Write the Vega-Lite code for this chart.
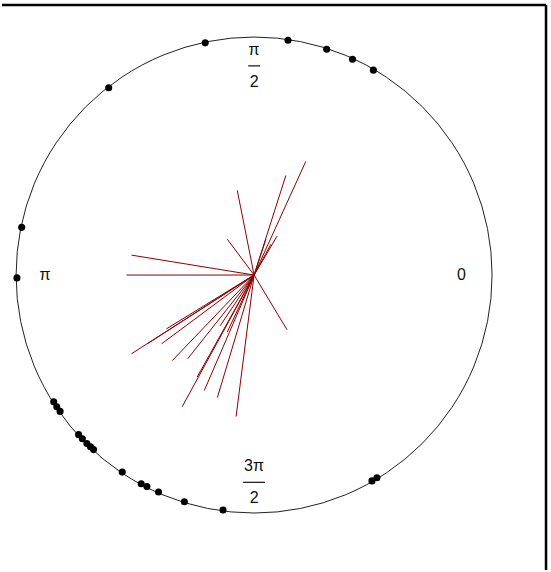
{
  "$schema": "https://vega.github.io/schema/vega-lite/v6.json",
  "width": 551,
  "height": 572,
  "autosize": {"type": "fit", "contains": "padding"},
  "padding": 0,
  "background": "white",
  "config": {"view": {"stroke": null}},
  "layer": [
    {
      "data": {"values": [
        {"x": -1.063, "y": 1.139, "x2": 1.231, "y2": 1.139},
        {"x": 1.231, "y": 1.139, "x2": 1.231, "y2": -1.2437}
      ]},
      "mark": {"type": "rule", "color": "black", "strokeWidth": 2.5},
      "encoding": {
        "x": {"field": "x", "type": "quantitative", "scale": {"domain": [-1.063, 1.252], "nice": false, "zero": false}, "axis": null},
        "y": {"field": "y", "type": "quantitative", "scale": {"domain": [-1.2437, 1.1597], "nice": false, "zero": false}, "axis": null},
        "x2": {"field": "x2"},
        "y2": {"field": "y2"}
      }
    },
    {
      "data": {"values": [{"x": 0, "y": 0}]},
      "mark": {"type": "point", "shape": "circle", "size": 226576, "filled": false, "stroke": "#222222", "strokeWidth": 1, "opacity": 1},
      "encoding": {
        "x": {"field": "x", "type": "quantitative", "axis": null},
        "y": {"field": "y", "type": "quantitative", "axis": null}
      }
    },
    {
      "data": {"values": [
        {"x0": 0, "y0": 0, "x": 0.218, "y": 0.479},
        {"x0": 0, "y0": 0, "x": 0.134, "y": 0.420},
        {"x0": 0, "y0": 0, "x": 0.097, "y": 0.164},
        {"x0": 0, "y0": 0, "x": 0.071, "y": 0.130},
        {"x0": 0, "y0": 0, "x": 0.050, "y": 0.151},
        {"x0": 0, "y0": 0, "x": -0.071, "y": 0.357},
        {"x0": 0, "y0": 0, "x": -0.113, "y": 0.151},
        {"x0": 0, "y0": 0, "x": -0.517, "y": 0.084},
        {"x0": 0, "y0": 0, "x": -0.538, "y": 0.0},
        {"x0": 0, "y0": 0, "x": 0.139, "y": -0.231},
        {"x0": 0, "y0": 0, "x": -0.076, "y": -0.597},
        {"x0": 0, "y0": 0, "x": -0.303, "y": -0.555},
        {"x0": 0, "y0": 0, "x": -0.210, "y": -0.487},
        {"x0": 0, "y0": 0, "x": -0.155, "y": -0.517},
        {"x0": 0, "y0": 0, "x": -0.517, "y": -0.332},
        {"x0": 0, "y0": 0, "x": -0.450, "y": -0.290},
        {"x0": 0, "y0": 0, "x": -0.390, "y": -0.290},
        {"x0": 0, "y0": 0, "x": -0.345, "y": -0.361},
        {"x0": 0, "y0": 0, "x": -0.280, "y": -0.353},
        {"x0": 0, "y0": 0, "x": -0.240, "y": -0.430},
        {"x0": 0, "y0": 0, "x": -0.370, "y": -0.227},
        {"x0": 0, "y0": 0, "x": -0.143, "y": -0.214},
        {"x0": 0, "y0": 0, "x": -0.113, "y": -0.240}
      ]},
      "mark": {"type": "rule", "color": "#8B0000", "strokeWidth": 1},
      "encoding": {
        "x": {"field": "x0", "type": "quantitative", "axis": null},
        "y": {"field": "y0", "type": "quantitative", "axis": null},
        "x2": {"field": "x"},
        "y2": {"field": "y"}
      }
    },
    {
      "data": {"values": [
        {"x": -0.206, "y": 0.979},
        {"x": 0.143, "y": 0.990},
        {"x": 0.306, "y": 0.952},
        {"x": 0.415, "y": 0.910},
        {"x": 0.503, "y": 0.864},
        {"x": -0.613, "y": 0.790},
        {"x": -0.980, "y": 0.201},
        {"x": -1.000, "y": -0.012},
        {"x": -0.845, "y": -0.534},
        {"x": -0.832, "y": -0.555},
        {"x": -0.818, "y": -0.575},
        {"x": -0.740, "y": -0.673},
        {"x": -0.724, "y": -0.690},
        {"x": -0.705, "y": -0.710},
        {"x": -0.690, "y": -0.724},
        {"x": -0.677, "y": -0.736},
        {"x": -0.556, "y": -0.831},
        {"x": -0.476, "y": -0.880},
        {"x": -0.452, "y": -0.892},
        {"x": -0.403, "y": -0.915},
        {"x": -0.294, "y": -0.956},
        {"x": -0.131, "y": -0.991},
        {"x": 0.497, "y": -0.868},
        {"x": 0.518, "y": -0.855}
      ]},
      "mark": {"type": "point", "shape": "circle", "filled": true, "color": "black", "size": 50, "opacity": 1},
      "encoding": {
        "x": {"field": "x", "type": "quantitative", "axis": null},
        "y": {"field": "y", "type": "quantitative", "axis": null}
      }
    },
    {
      "data": {"values": [
        {"x": 0, "y": 0.950, "t": "π"},
        {"x": 0, "y": 0.815, "t": "2"},
        {"x": -0.882, "y": 0.0, "t": "π"},
        {"x": 0.874, "y": 0.0, "t": "0"},
        {"x": 0, "y": -0.807, "t": "3π"},
        {"x": 0, "y": -0.941, "t": "2"}
      ]},
      "mark": {"type": "text", "font": "Liberation Sans", "fontSize": 16, "color": "#111111", "align": "center", "baseline": "middle"},
      "encoding": {
        "x": {"field": "x", "type": "quantitative", "axis": null},
        "y": {"field": "y", "type": "quantitative", "axis": null},
        "text": {"field": "t"}
      }
    },
    {
      "data": {"values": [
        {"x": -0.025, "x2": 0.025, "y": 0.882},
        {"x": -0.046, "x2": 0.046, "y": -0.874}
      ]},
      "mark": {"type": "rule", "color": "#111111", "strokeWidth": 1.2},
      "encoding": {
        "x": {"field": "x", "type": "quantitative", "axis": null},
        "x2": {"field": "x2"},
        "y": {"field": "y", "type": "quantitative", "axis": null}
      }
    }
  ]
}
